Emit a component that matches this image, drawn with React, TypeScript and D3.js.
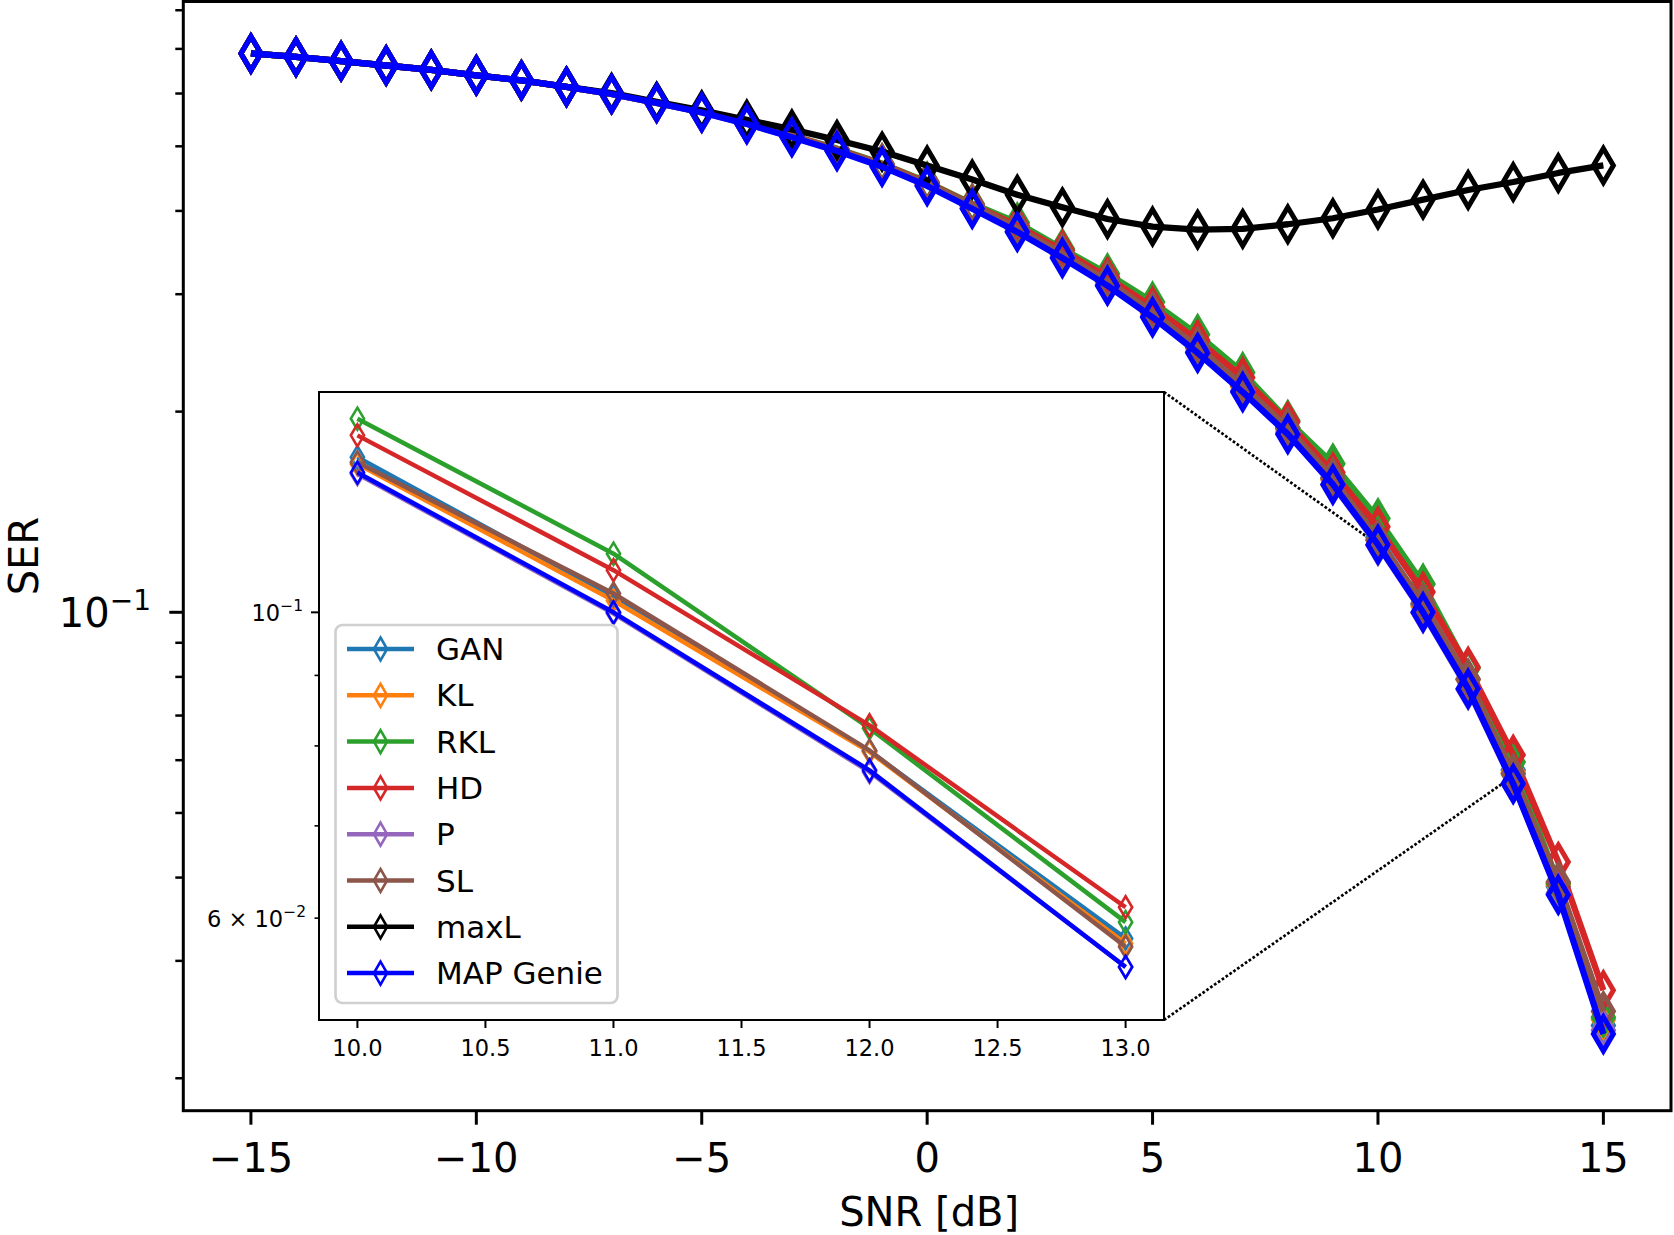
import React from "react";
import * as d3 from "d3";

// SNR grid in dB
const snr = [-15, -14, -13, -12, -11, -10, -9, -8, -7, -6, -5, -4, -3, -2, -1, 0, 1, 2, 3, 4, 5, 6, 7, 8, 9, 10, 11, 12, 13, 14, 15];

// SER values
const gan = [0.689, 0.681, 0.671, 0.661, 0.651, 0.639, 0.628, 0.614, 0.599, 0.581, 0.563, 0.541, 0.518, 0.494, 0.468, 0.439, 0.407, 0.376, 0.345, 0.314, 0.282, 0.25, 0.219, 0.189, 0.159, 0.1296, 0.1026, 0.0793, 0.058, 0.0388, 0.024];
const kl = [0.689, 0.681, 0.671, 0.661, 0.651, 0.639, 0.628, 0.614, 0.599, 0.581, 0.563, 0.541, 0.518, 0.494, 0.468, 0.439, 0.407, 0.376, 0.344, 0.313, 0.281, 0.249, 0.218, 0.188, 0.158, 0.1281, 0.102, 0.0792, 0.0575, 0.039, 0.0245];
const rkl = [0.689, 0.681, 0.671, 0.661, 0.651, 0.639, 0.628, 0.614, 0.599, 0.582, 0.563, 0.542, 0.519, 0.496, 0.471, 0.442, 0.41, 0.384, 0.351, 0.322, 0.292, 0.261, 0.229, 0.194, 0.167, 0.1382, 0.1103, 0.0824, 0.0596, 0.0392, 0.0247];
const hd = [0.689, 0.681, 0.671, 0.661, 0.651, 0.639, 0.628, 0.614, 0.599, 0.582, 0.563, 0.542, 0.519, 0.495, 0.47, 0.441, 0.409, 0.38, 0.349, 0.318, 0.287, 0.256, 0.225, 0.193, 0.162, 0.1344, 0.1073, 0.0828, 0.0611, 0.0422, 0.0271];
const p = [0.689, 0.681, 0.671, 0.661, 0.651, 0.639, 0.628, 0.614, 0.599, 0.581, 0.562, 0.54, 0.517, 0.493, 0.467, 0.437, 0.404, 0.373, 0.341, 0.31, 0.278, 0.246, 0.215, 0.186, 0.1553, 0.126, 0.0998, 0.0766, 0.0553, 0.0379, 0.0236];
const sl = [0.689, 0.681, 0.671, 0.661, 0.651, 0.639, 0.628, 0.614, 0.599, 0.581, 0.563, 0.541, 0.518, 0.494, 0.469, 0.44, 0.408, 0.377, 0.345, 0.314, 0.282, 0.25, 0.219, 0.189, 0.159, 0.1285, 0.1032, 0.0794, 0.0572, 0.0394, 0.0252];
const maxL = [0.689, 0.681, 0.671, 0.661, 0.651, 0.639, 0.628, 0.614, 0.601, 0.583, 0.566, 0.548, 0.53, 0.511, 0.491, 0.468, 0.446, 0.423, 0.405, 0.389, 0.379, 0.375, 0.376, 0.382, 0.39, 0.402, 0.416, 0.43, 0.442, 0.456, 0.468];
const mapGenie = [0.689, 0.681, 0.671, 0.661, 0.651, 0.639, 0.628, 0.614, 0.599, 0.581, 0.562, 0.54, 0.516, 0.492, 0.466, 0.436, 0.403, 0.372, 0.34, 0.309, 0.277, 0.245, 0.214, 0.185, 0.1555, 0.1263, 0.1, 0.0768, 0.0553, 0.0377, 0.0233];

const labels = ["GAN", "KL", "RKL", "HD", "P", "SL", "maxL", "MAP Genie"];
const colors = ["#1f77b4", "#ff7f0e", "#2ca02c", "#d62728", "#9467bd", "#8c564b", "#000000", "#0000ff"];
const values = [gan, kl, rkl, hd, p, sl, maxL, mapGenie];

const xTicks = [-15, -10, -5, 0, 5, 10, 15];
const insetXTicks = [10, 10.5, 11, 11.5, 12, 12.5, 13];
// points the dotted zoom connectors run to
const zoomTargets = [[10, 0.1263], [13, 0.0568]];

const W = 1674;
const H = 1235;
const box = { l: 183.3, r: 1671, t: 1.5, b: 1110.7 };
const ibox = { l: 319, r: 1164, t: 392, b: 1020 };
const font = "'DejaVu Sans', sans-serif";

const x = d3.scaleLinear().domain([-16.5, 16.5]).range([box.l, box.r]);
const y = d3.scaleLog().domain([0.01788, 0.8245]).range([box.b, box.t]);
const ix = d3.scaleLinear().domain([9.85, 13.15]).range([ibox.l, ibox.r]);
const iy = d3.scaleLog().domain([0.05061, 0.1445]).range([ibox.b, ibox.t]);

const diamond = (hw: number, hh: number) => `M0,${-hh}L${hw},0L0,${hh}L${-hw},0Z`;
const isPow10 = (v: number) => Math.abs(Math.log10(v) - Math.round(Math.log10(v))) < 1e-9;

const Series = ({ xs, ys, vals, color, lw, mhw, mhh, mw, minX, maxX }: any) => {
  const pts = snr.map((s, i) => [s, vals[i]]).filter((d) => d[0] >= minX && d[0] <= maxX);
  const line = d3.line<number[]>().x((d) => xs(d[0])).y((d) => ys(d[1]));
  return (
    <g>
      <path d={line(pts) || ""} fill="none" stroke={color} strokeWidth={lw} strokeLinejoin="round" />
      {pts.map((d, i) => (
        <path
          key={i}
          d={diamond(mhw, mhh)}
          transform={`translate(${xs(d[0])},${ys(d[1])})`}
          fill="none"
          stroke={color}
          strokeWidth={mw}
          strokeLinejoin="miter"
          strokeMiterlimit={10}
        />
      ))}
    </g>
  );
};

export default function App() {
  const yTicks = y.ticks();
  const iyTicks = iy.ticks();
  const legendTop = 649;
  const legendStep = 46.3;

  return (
    <svg width={W} height={H} style={{ position: "absolute", left: 0, top: 0, background: "#fff" }} fontFamily={font}>
      <defs>
        <clipPath id="mainClip">
          <rect x={box.l} y={box.t} width={box.r - box.l} height={box.b - box.t} />
        </clipPath>
        <clipPath id="insetClip">
          <rect x={ibox.l} y={ibox.t} width={ibox.r - ibox.l} height={ibox.b - ibox.t} />
        </clipPath>
      </defs>
      <rect width={W} height={H} fill="#fff" />

      {/* zoom connectors */}
      <line x1={ibox.r} y1={ibox.t} x2={x(zoomTargets[0][0])} y2={y(zoomTargets[0][1])} stroke="#000" strokeWidth={2.7} strokeDasharray="2.7 2.0" />
      <line x1={ibox.r} y1={ibox.b} x2={x(zoomTargets[1][0])} y2={y(zoomTargets[1][1])} stroke="#000" strokeWidth={2.7} strokeDasharray="2.7 2.0" />

      {/* main curves */}
      <g clipPath="url(#mainClip)">
        {values.map((vals, i) => (
          <Series key={i} xs={x} ys={y} vals={vals} color={colors[i]} lw={6.3} mhw={10} mhh={17} mw={5} minX={-99} maxX={99} />
        ))}
      </g>

      {/* main spines */}
      <rect x={box.l} y={box.t} width={box.r - box.l} height={box.b - box.t} fill="none" stroke="#000" strokeWidth={3} />

      {/* main x ticks */}
      {xTicks.map((t) => (
        <g key={t}>
          <line x1={x(t)} x2={x(t)} y1={box.b} y2={box.b + 14} stroke="#000" strokeWidth={3} />
          <text x={x(t)} y={1172} fontSize={40} textAnchor="middle">
            {t < 0 ? `\u2212${-t}` : `${t}`}
          </text>
        </g>
      ))}

      {/* main y ticks */}
      {yTicks.map((t, i) => {
        const major = isPow10(t);
        return (
          <line key={i} x1={box.l - (major ? 14 : 8)} x2={box.l} y1={y(t)} y2={y(t)} stroke="#000" strokeWidth={major ? 3 : 2.5} />
        );
      })}
      <text x={151} y={y(0.1) + 15} fontSize={40} textAnchor="end">
        <tspan>10</tspan>
        <tspan dy={-17} fontSize={28}>{"\u22121"}</tspan>
      </text>

      <text x={box.l + (box.r - box.l) / 2 + 2} y={1226} fontSize={40} textAnchor="middle">
        SNR [dB]
      </text>
      <text transform={`translate(37.5,${(box.t + box.b) / 2}) rotate(-90)`} fontSize={40} textAnchor="middle">
        SER
      </text>

      {/* inset */}
      <rect x={ibox.l} y={ibox.t} width={ibox.r - ibox.l} height={ibox.b - ibox.t} fill="#fff" />
      <g clipPath="url(#insetClip)">
        {values.map((vals, i) => (
          <Series key={i} xs={ix} ys={iy} vals={vals} color={colors[i]} lw={4.5} mhw={6.6} mhh={11} mw={2.6} minX={10} maxX={13} />
        ))}
      </g>
      <rect x={ibox.l} y={ibox.t} width={ibox.r - ibox.l} height={ibox.b - ibox.t} fill="none" stroke="#000" strokeWidth={2} />

      {insetXTicks.map((t) => (
        <g key={t}>
          <line x1={ix(t)} x2={ix(t)} y1={ibox.b} y2={ibox.b + 8} stroke="#000" strokeWidth={2} />
          <text x={ix(t)} y={1056} fontSize={22.5} textAnchor="middle">
            {t.toFixed(1)}
          </text>
        </g>
      ))}
      {iyTicks.map((t, i) => {
        const major = isPow10(t);
        return (
          <line key={i} x1={ibox.l - (major ? 8 : 4.5)} x2={ibox.l} y1={iy(t)} y2={iy(t)} stroke="#000" strokeWidth={major ? 2 : 1.6} />
        );
      })}
      <text x={303} y={iy(0.1) + 8.5} fontSize={22.5} textAnchor="end">
        <tspan>10</tspan>
        <tspan dy={-10} fontSize={15.5}>{"\u22121"}</tspan>
      </text>
      <text x={306} y={iy(0.06) + 8.5} fontSize={22.5} textAnchor="end">
        <tspan>{"6 \u00d7 10"}</tspan>
        <tspan dy={-10} fontSize={15.5}>{"\u22122"}</tspan>
      </text>

      {/* legend */}
      <rect x={335.5} y={625} width={282} height={378} rx={7} fill="#fff" fillOpacity={0.8} stroke="#d0d0d0" strokeWidth={2.7} />
      {labels.map((lab, i) => {
        const cy = legendTop + i * legendStep;
        return (
          <g key={lab}>
            <line x1={347} x2={414} y1={cy} y2={cy} stroke={colors[i]} strokeWidth={4.5} />
            <path d={diamond(6.6, 11.5)} transform={`translate(380.5,${cy})`} fill="none" stroke={colors[i]} strokeWidth={2.6} strokeLinejoin="miter" strokeMiterlimit={10} />
            <text x={436} y={cy + 11} fontSize={31}>
              {lab}
            </text>
          </g>
        );
      })}
    </svg>
  );
}
